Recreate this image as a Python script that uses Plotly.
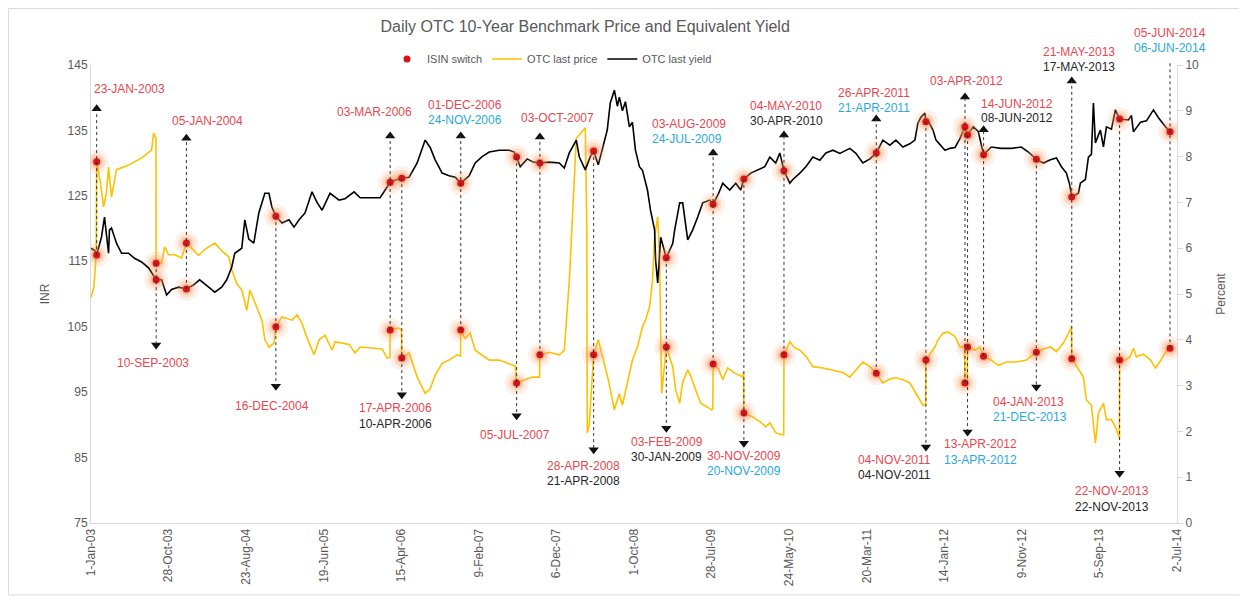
import pandas as pd
import plotly.graph_objects as go

# ---------------- data ----------------
price_year = [2003.00, 2003.03, 2003.055, 2003.060, 2003.10, 2003.133, 2003.164, 2003.186, 2003.217,
              2003.270, 2003.398, 2003.536, 2003.642, 2003.663, 2003.685, 2003.688, 2003.690,
              2003.748, 2003.780, 2003.822, 2003.886, 2003.960, 2004.011, 2004.066, 2004.140,
              2004.204, 2004.310, 2004.384, 2004.458, 2004.490, 2004.543, 2004.596, 2004.649,
              2004.681, 2004.734, 2004.809, 2004.840, 2004.883, 2004.936, 2004.956, 2005.021,
              2005.127, 2005.180, 2005.233, 2005.286, 2005.361, 2005.414, 2005.477, 2005.552,
              2005.583, 2005.732, 2005.796, 2005.849, 2006.082, 2006.135, 2006.164, 2006.167,
              2006.262, 2006.287, 2006.290, 2006.368, 2006.453, 2006.538, 2006.591, 2006.644,
              2006.718, 2006.792, 2006.877, 2006.912, 2006.915, 2006.960, 2007.015, 2007.068,
              2007.142, 2007.217, 2007.323, 2007.429, 2007.492, 2007.507, 2007.588, 2007.673,
              2007.750, 2007.753, 2007.853, 2007.959, 2008.012, 2008.065, 2008.139, 2008.234,
              2008.250, 2008.255, 2008.276, 2008.308, 2008.322, 2008.371, 2008.413, 2008.477,
              2008.541, 2008.594, 2008.626, 2008.679, 2008.732, 2008.785, 2008.838, 2008.870,
              2008.912, 2008.944, 2008.966, 2008.999, 2009.020, 2009.041, 2009.090, 2009.158,
              2009.190, 2009.232, 2009.264, 2009.317, 2009.349, 2009.402, 2009.455, 2009.529,
              2009.572, 2009.583, 2009.586, 2009.645, 2009.688, 2009.741, 2009.815, 2009.900,
              2009.909, 2009.912, 2010.006, 2010.081, 2010.144, 2010.187, 2010.250, 2010.303,
              2010.334, 2010.337, 2010.399, 2010.452, 2010.505, 2010.569, 2010.643, 2010.749,
              2010.855, 2010.961, 2011.035, 2011.099, 2011.173, 2011.248, 2011.315, 2011.385,
              2011.459, 2011.523, 2011.597, 2011.671, 2011.735, 2011.809, 2011.838, 2011.841,
              2011.937, 2011.969, 2012.022, 2012.075, 2012.149, 2012.202, 2012.250, 2012.254,
              2012.270, 2012.278, 2012.281, 2012.362, 2012.415, 2012.451, 2012.521, 2012.606,
              2012.691, 2012.797, 2012.903, 2013.010, 2013.083, 2013.157, 2013.221, 2013.295,
              2013.348, 2013.380, 2013.384, 2013.433, 2013.507, 2013.539, 2013.592, 2013.634,
              2013.666, 2013.719, 2013.751, 2013.804, 2013.846, 2013.885, 2013.888, 2013.890,
              2013.952, 2014.005, 2014.037, 2014.069, 2014.143, 2014.218, 2014.271, 2014.324,
              2014.377, 2014.425]
price_inr = [109.5, 111.0, 116.0, 130.2, 127.0, 123.3, 125.5, 129.4, 124.8,
             129.0, 129.7, 130.8, 132.0, 134.6, 133.8, 134.0, 114.7,
             114.7, 117.2, 116.0, 116.0, 115.5, 117.8, 117.0, 115.9,
             116.8, 117.8, 116.6, 115.7, 113.7, 111.6, 110.6, 107.5,
             110.6, 108.6, 106.0, 103.0, 101.9, 102.5, 105.0, 106.5,
             106.0, 106.8, 105.5, 103.3, 100.7, 103.0, 103.7, 101.4,
             102.7, 102.3, 101.0, 101.9, 101.6, 100.2, 100.3, 104.5,
             104.8, 104.5, 100.2, 101.0, 97.3, 94.8, 95.5, 97.6,
             99.4, 99.9, 100.7, 100.5, 104.5, 103.2, 104.0, 101.4,
             100.7, 99.9, 99.9, 99.4, 99.0, 96.4, 96.9, 97.3,
             97.3, 100.7, 101.1, 100.7, 101.4, 112.0, 133.8, 135.4,
             120.0, 88.8, 90.0, 98.0, 100.7, 103.0, 100.4, 96.9,
             92.3, 94.8, 93.0, 96.4, 99.9, 101.9, 105.0, 106.0,
             108.0, 112.0, 118.7, 121.8, 114.7, 94.8, 101.9, 98.9,
             95.3, 93.3, 96.5, 98.4, 97.5, 95.3, 93.3, 92.7,
             92.3, 92.5, 99.3, 98.5, 96.9, 98.7, 97.9, 97.3,
             98.0, 91.8, 91.2, 90.5, 89.7, 90.3, 88.8, 88.5,
             88.5, 100.7, 102.7, 101.8, 101.4, 100.5, 98.9, 98.7,
             98.4, 98.0, 97.3, 98.3, 99.6, 98.9, 97.9, 96.4,
             97.0, 97.2, 96.9, 96.4, 94.8, 93.0, 93.0, 99.9,
             101.9, 103.0, 104.0, 104.2, 103.5, 101.9, 102.0, 96.4,
             96.6, 96.5, 101.9, 101.4, 101.9, 100.5, 100.0, 99.1,
             99.6, 99.6, 99.9, 101.1, 101.6, 101.9, 101.2, 102.5,
             104.0, 105.0, 100.1, 98.9, 97.3, 93.8, 93.0, 87.2,
             91.8, 93.3, 90.8, 90.8, 89.7, 88.1, 88.1, 99.9,
             99.9, 100.5, 101.7, 100.4, 100.8, 99.9, 98.7, 99.8,
             101.1, 101.7]

yield_year = [2003.00, 2003.04, 2003.060, 2003.111, 2003.143, 2003.164, 2003.186, 2003.196, 2003.217,
              2003.270, 2003.324, 2003.398, 2003.461, 2003.536, 2003.610, 2003.690, 2003.748,
              2003.801, 2003.854, 2003.928, 2004.011, 2004.087, 2004.151, 2004.246, 2004.310,
              2004.384, 2004.437, 2004.490, 2004.522, 2004.596, 2004.628, 2004.670, 2004.723,
              2004.776, 2004.840, 2004.883, 2004.914, 2004.956, 2005.021, 2005.095, 2005.148,
              2005.202, 2005.265, 2005.339, 2005.392, 2005.446, 2005.530, 2005.626, 2005.689,
              2005.785, 2005.849, 2005.944, 2006.060, 2006.114, 2006.167, 2006.241, 2006.290,
              2006.368, 2006.453, 2006.538, 2006.591, 2006.644, 2006.718, 2006.792, 2006.856,
              2006.915, 2007.004, 2007.068, 2007.142, 2007.217, 2007.323, 2007.429, 2007.482,
              2007.507, 2007.545, 2007.619, 2007.683, 2007.753, 2007.853, 2007.959, 2008.012,
              2008.065, 2008.139, 2008.171, 2008.234, 2008.287, 2008.322, 2008.371, 2008.413,
              2008.466, 2008.498, 2008.541, 2008.573, 2008.594, 2008.626, 2008.658, 2008.700,
              2008.732, 2008.764, 2008.806, 2008.838, 2008.891, 2008.923, 2008.966, 2008.977,
              2008.999, 2009.031, 2009.073, 2009.090, 2009.158, 2009.179, 2009.232, 2009.264,
              2009.317, 2009.370, 2009.423, 2009.476, 2009.550, 2009.586, 2009.645, 2009.688,
              2009.762, 2009.826, 2009.879, 2009.912, 2009.985, 2010.059, 2010.134, 2010.187,
              2010.250, 2010.293, 2010.337, 2010.399, 2010.431, 2010.505, 2010.569, 2010.643,
              2010.717, 2010.781, 2010.855, 2010.929, 2011.035, 2011.099, 2011.173, 2011.248,
              2011.315, 2011.385, 2011.459, 2011.523, 2011.597, 2011.671, 2011.724, 2011.756,
              2011.788, 2011.830, 2011.841, 2011.860, 2011.916, 2011.948, 2012.001, 2012.043,
              2012.096, 2012.149, 2012.202, 2012.254, 2012.281, 2012.341, 2012.394, 2012.415,
              2012.451, 2012.479, 2012.532, 2012.638, 2012.744, 2012.850, 2012.924, 2013.010,
              2013.083, 2013.157, 2013.221, 2013.274, 2013.327, 2013.360, 2013.384, 2013.454,
              2013.475, 2013.528, 2013.560, 2013.592, 2013.613, 2013.634, 2013.687, 2013.719,
              2013.751, 2013.804, 2013.846, 2013.890, 2013.984, 2014.016, 2014.037, 2014.111,
              2014.175, 2014.249, 2014.302, 2014.377, 2014.425]
yield_pct = [6.00, 5.95, 5.85, 6.24, 6.68, 6.30, 5.89, 6.40, 6.44,
             6.11, 5.89, 5.89, 5.78, 5.70, 5.57, 5.31, 5.31,
             4.98, 5.10, 5.15, 5.11, 5.20, 5.31, 5.15, 5.04,
             5.15, 5.31, 5.59, 5.89, 6.00, 6.62, 6.20, 6.11,
             6.77, 7.20, 7.20, 6.90, 6.70, 6.55, 6.62, 6.46,
             6.62, 6.77, 7.23, 7.00, 6.83, 7.20, 7.05, 7.08,
             7.23, 7.10, 7.10, 7.10, 7.27, 7.44, 7.50, 7.53,
             7.55, 7.86, 8.36, 8.20, 7.93, 7.64, 7.58, 7.55,
             7.42, 7.58, 7.86, 8.00, 8.10, 8.14, 8.14, 8.10,
             7.99, 7.78, 7.95, 7.88, 7.86, 7.88, 7.86, 7.75,
             8.08, 8.36, 7.99, 7.71, 8.00, 8.12, 7.82, 8.14,
             8.58, 9.17, 9.45, 9.10, 9.30, 9.00, 9.20, 8.65,
             8.75, 8.14, 7.78, 7.70, 7.27, 6.83, 6.40, 5.74,
             5.24, 6.24, 5.90, 5.79, 6.10, 6.40, 6.99, 6.99,
             6.18, 6.40, 6.68, 6.99, 7.05, 6.96, 7.20, 7.42,
             7.27, 7.42, 7.27, 7.51, 7.64, 7.71, 7.78, 7.99,
             7.86, 8.08, 7.69, 7.42, 7.50, 7.64, 7.78, 7.99,
             7.92, 8.08, 8.14, 8.07, 8.18, 8.07, 7.86, 7.95,
             8.08, 8.36, 8.25, 8.36, 8.21, 8.28, 8.36, 8.73,
             8.86, 8.95, 8.76, 8.80, 8.58, 8.36, 8.24, 8.14,
             8.18, 8.20, 8.40, 8.65, 8.47, 8.65, 8.55, 8.36,
             8.04, 8.10, 8.21, 8.18, 8.18, 8.21, 8.10, 7.94,
             7.86, 7.93, 7.97, 7.78, 7.64, 7.40, 7.12, 7.20,
             7.42, 7.50, 7.99, 8.05, 9.17, 8.30, 8.58, 8.21,
             8.65, 8.60, 9.02, 8.82, 8.80, 8.90, 8.54, 8.75,
             8.78, 9.02, 8.85, 8.65, 8.54]

switch_dates = ["2003-01-23", "2003-09-10", "2004-01-05", "2004-12-16", "2006-03-03", "2006-04-17",
                "2006-12-01", "2007-07-05", "2007-10-03", "2008-04-28", "2009-02-03", "2009-08-03",
                "2009-11-30", "2010-05-04", "2011-04-26", "2011-11-04", "2012-04-03", "2012-04-13",
                "2012-06-14", "2013-01-04", "2013-05-21", "2013-11-22", "2014-06-05"]
switch_price = [130.2, 114.7, 117.8, 105.0, 104.5, 100.2, 104.5, 96.4, 100.7, 100.7, 101.9, 99.3,
                91.8, 100.7, 97.9, 99.9, 96.4, 101.9, 100.5, 101.1, 100.1, 99.9, 101.7]
switch_yield = [5.85, 5.31, 5.11, 6.70, 7.44, 7.53, 7.42, 7.99, 7.86, 8.12, 5.79, 6.96,
                7.51, 7.69, 8.08, 8.76, 8.65, 8.47, 8.04, 7.94, 7.12, 8.82, 8.54]

x_start, x_end = "2003-01-01", "2014-07-02"
tick_step_days = 300

RED, BLUE, BLACK = "#E8474F", "#2AA8DC", "#262626"
# callouts: switch index, direction, arrow tip (INR), label lines, label y (INR), label x shift (px)
callouts = [
    (0, "up", 138.3, [("23-JAN-2003", RED)], [141.3], -5),
    (2, "up", 133.8, [("05-JAN-2004", RED)], [136.4], -16),
    (4, "up", 134.15, [("03-MAR-2006", RED)], [137.8], -55),
    (6, "up", 134.15, [("01-DEC-2006", RED), ("24-NOV-2006", BLUE)], [138.9, 136.6], -35),
    (8, "up", 134.0, [("03-OCT-2007", RED)], [136.9], -21),
    (11, "up", 131.55, [("03-AUG-2009", RED), ("24-JUL-2009", BLUE)], [136.0, 133.7], -63),
    (13, "up", 134.3, [("04-MAY-2010", RED), ("30-APR-2010", BLACK)], [138.7, 136.4], -36),
    (14, "up", 136.75, [("26-APR-2011", RED), ("21-APR-2011", BLUE)], [140.7, 138.4], -40),
    (16, "up", 140.1, [("03-APR-2012", RED)], [142.55], -37),
    (18, "up", 135.1, [("14-JUN-2012", RED), ("08-JUN-2012", BLACK)], [139.0, 136.9], -5),
    (20, "up", 142.55, [("21-MAY-2013", RED), ("17-MAY-2013", BLACK)], [147.0, 144.7], -31),
    (22, "up", 145.4, [("05-JUN-2014", RED), ("06-JUN-2014", BLUE)], [149.9, 147.6], -38),
    (1, "down", 102.2, [("10-SEP-2003", RED)], [99.5], -41),
    (3, "down", 95.9, [("16-DEC-2004", RED)], [92.9], -43),
    (5, "down", 94.6, [("17-APR-2006", RED), ("10-APR-2006", BLACK)], [92.6, 90.1], -45),
    (7, "down", 91.4, [("05-JUL-2007", RED)], [88.45], -39),
    (9, "down", 86.2, [("28-APR-2008", RED), ("21-APR-2008", BLACK)], [83.7, 81.4], -49),
    (10, "down", 89.5, [("03-FEB-2009", RED), ("30-JAN-2009", BLACK)], [87.4, 85.1], -37),
    (12, "down", 87.2, [("30-NOV-2009", RED), ("20-NOV-2009", BLUE)], [85.2, 82.95], -39),
    (15, "down", 86.6, [("04-NOV-2011", RED), ("04-NOV-2011", BLACK)], [84.6, 82.3], -70),
    (17, "down", 88.9, [("13-APR-2012", RED), ("13-APR-2012", BLUE)], [87.1, 84.6], -26),
    (19, "down", 95.8, [("04-JAN-2013", RED), ("21-DEC-2013", BLUE)], [93.5, 91.2], -45),
    (21, "down", 82.6, [("22-NOV-2013", RED), ("22-NOV-2013", BLACK)], [79.9, 77.45], -47),
]

# ---------------- helpers ----------------
def yr_to_date(v):
    y = int(v)
    s = pd.Timestamp(y, 1, 1)
    e = pd.Timestamp(y + 1, 1, 1)
    return s + (e - s) * (v - y)

P_MIN, P_MAX = 75, 145
Y_MIN, Y_MAX = 0, 10
def yield_to_inr(v):
    return P_MIN + (v - Y_MIN) * (P_MAX - P_MIN) / (Y_MAX - Y_MIN)
def inr_to_paper(v):
    return (v - P_MIN) / (P_MAX - P_MIN)

price_x = [yr_to_date(v) for v in price_year]
yield_x = [yr_to_date(v) for v in yield_year]
sw_x = pd.to_datetime(switch_dates)

FONT = "Liberation Sans, Arial, sans-serif"
GREY = "#595959"

fig = go.Figure()
fig.add_trace(go.Scatter(x=price_x, y=price_inr, mode="lines", name="OTC last price",
                         line=dict(color="#FFC000", width=1.6), legendrank=2))
fig.add_trace(go.Scatter(x=yield_x, y=yield_pct, mode="lines", name="OTC last yield", yaxis="y2",
                         line=dict(color="#000000", width=1.6), legendrank=3))

# soft glow around switch markers
for yref, vals in (("y", switch_price), ("y2", switch_yield)):
    for size, col in ((24, "rgba(250,170,120,0.16)"), (17, "rgba(248,150,90,0.22)"),
                      (11, "rgba(245,125,60,0.35)")):
        fig.add_trace(go.Scatter(x=sw_x, y=vals, mode="markers", yaxis=yref, showlegend=False,
                                 hoverinfo="skip", marker=dict(size=size, color=col, line_width=0)))
fig.add_trace(go.Scatter(x=sw_x, y=switch_price, mode="markers", name="ISIN switch",
                         marker=dict(size=7, color="#D6121A"), legendrank=1))
fig.add_trace(go.Scatter(x=sw_x, y=switch_yield, mode="markers", yaxis="y2", showlegend=False,
                         marker=dict(size=7, color="#D6121A")))

# callouts
shapes = []
annotations = []
tri_x, tri_y, tri_sym = [], [], []
for idx, direction, tip, lines, label_y, xshift in callouts:
    d = sw_x[idx]
    p = switch_price[idx]
    yv = yield_to_inr(switch_yield[idx])
    start = min(p, yv) if direction == "up" else max(p, yv)
    shapes.append(dict(type="line", xref="x", yref="paper", x0=d, x1=d,
                       y0=inr_to_paper(start), y1=inr_to_paper(tip),
                       line=dict(color="#333333", width=1, dash="dot"), layer="above"))
    tri_x.append(d)
    tri_y.append(tip)
    tri_sym.append("triangle-up" if direction == "up" else "triangle-down")
    for (txt, col), ly in zip(lines, label_y):
        annotations.append(dict(x=d, y=inr_to_paper(ly), xref="x", yref="paper", text=txt,
                                showarrow=False, xanchor="left", yanchor="middle", xshift=xshift,
                                font=dict(family=FONT, size=12, color=col)))

fig.add_trace(go.Scatter(x=tri_x, y=tri_y, mode="markers", showlegend=False, hoverinfo="skip",
                         cliponaxis=False,
                         marker=dict(symbol=tri_sym, size=9, color="#111111", line_width=0)))

# outer chart border
shapes.append(dict(type="rect", xref="paper", yref="paper", x0=-0.076, x1=1.0599,
                   y0=-0.157, y1=1.1234, line=dict(color="#D9D9D9", width=1), layer="below"))

tick_dates = pd.date_range(x_start, x_end, freq=f"{tick_step_days}D")
tick_text = [f"{t.day}-{t:%b}-{t:%y}" for t in tick_dates]

fig.update_layout(
    width=1239, height=590,
    margin=dict(l=83, r=70, t=57, b=75),
    paper_bgcolor="white", plot_bgcolor="white",
    font=dict(family=FONT, color=GREY),
    title=dict(text="Daily OTC 10-Year Benchmark Price and Equivalent Yield",
               x=0.455, xref="paper", xanchor="center", y=0.968, yanchor="middle",
               font=dict(family=FONT, size=16, color=GREY)),
    legend=dict(orientation="h", x=0.4245, xanchor="center", y=1.013, yanchor="middle",
                font=dict(family=FONT, size=11, color=GREY), bgcolor="rgba(0,0,0,0)",
                itemwidth=30, tracegroupgap=0),
    xaxis=dict(type="date", range=[x_start, x_end], tickvals=tick_dates, ticktext=tick_text,
               tickangle=-90, showgrid=False, zeroline=False, showline=True,
               linecolor="#D9D9D9", linewidth=1, ticks="", tickfont=dict(size=12, color=GREY)),
    yaxis=dict(range=[P_MIN, P_MAX], dtick=10, tick0=75, showgrid=False, zeroline=False,
               showline=True, linecolor="#D9D9D9", linewidth=1, ticks="",
               tickfont=dict(size=12, color=GREY),
               title=dict(text="INR", font=dict(size=12, color=GREY), standoff=15)),
    yaxis2=dict(range=[Y_MIN, Y_MAX], dtick=1, overlaying="y", side="right", showgrid=False,
                zeroline=False, showline=True, linecolor="#D9D9D9", linewidth=1,
                ticks="outside", ticklen=5, tickcolor="#D9D9D9",
                tickfont=dict(size=12, color=GREY),
                title=dict(text="Percent", font=dict(size=12, color=GREY), standoff=18)),
    shapes=shapes, annotations=annotations, showlegend=True,
)

fig.write_html("out.html")
